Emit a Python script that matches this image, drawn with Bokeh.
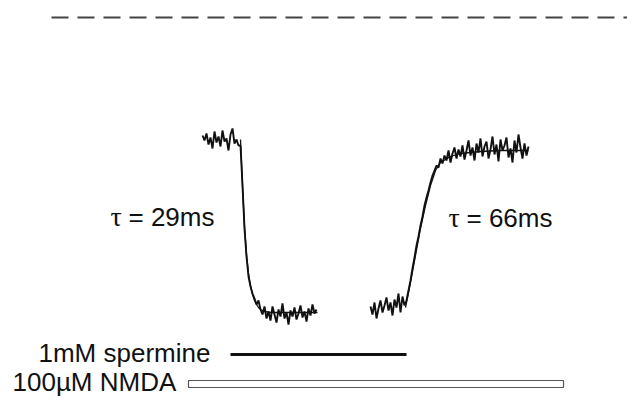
import numpy as np
from bokeh.plotting import figure
from bokeh.models import Range1d, Label
from bokeh.embed import file_html
from bokeh.resources import INLINE

# ---- data (time in ms, current in pA) ----
dt = 8  # sampling interval, ms
seg1_start = 0
seg1_current = [-590, -615, -580, -635, -600, -655, -570, -625, -595, -645,
                -565, -620, -605, -665, -585, -555, -630, -610, -640, -640,
                -840, -1055, -1195, -1295, -1345, -1380, -1405, -1435, -1415, -1460,
                -1485, -1445,
                -1505, -1470, -1515, -1445, -1485, -1525, -1460, -1495, -1430, -1505,
                -1475, -1535, -1465, -1495, -1450, -1510, -1480, -1440, -1500, -1470,
                -1520, -1455, -1490, -1435, -1480, -1460]
seg2_start = 672
seg2_current = [-1445, -1485, -1425, -1505, -1455, -1415, -1475, -1440, -1400, -1465,
                -1425, -1490, -1410, -1450, -1380, -1475, -1395, -1440, -1415,
                -1365, -1315, -1255, -1200, -1140, -1095, -1040, -995, -940, -900,
                -865, -825, -790, -765, -740, -750, -705, -730, -690, -715,
                -665, -725, -680, -650, -705, -660, -695, -640, -710, -665,
                -615, -690, -650, -715, -630, -675, -605, -695, -645, -620,
                -705, -660, -595, -685, -635, -720, -610, -665, -640, -600,
                -700, -655, -725, -615, -675, -585, -650, -705, -630, -690, -645]

fall_fit_t = [152, 160, 168, 176, 184, 192, 200, 208, 216, 224, 232, 248, 272, 460]
fall_fit_i = [-610, -840, -1045, -1185, -1280, -1340, -1385, -1415, -1435, -1450,
              -1460, -1470, -1475, -1475]
rise_fit_t = [812, 832, 852, 872, 892, 912, 932, 952, 992, 1032, 1112, 1192, 1304]
rise_fit_i = [-1450, -1325, -1190, -1055, -940, -840, -765, -725, -695, -680,
              -670, -665, -665]

zero_t = [-604, 1700]
spermine_t = [112, 816]
nmda_t = [-56, 1444]
tau_texts = ["= 29ms", "= 66ms"]
spermine_label = "1mM spermine"
nmda_label = "100\u00b5M NMDA"

seg1_t = seg1_start + dt * np.arange(len(seg1_current))
seg2_t = seg2_start + dt * np.arange(len(seg2_current))

p = figure(width=627, height=403, x_range=Range1d(-808, 1700), y_range=Range1d(-1930, 85),
           output_backend="svg", toolbar_location=None, min_border=0,
           x_axis_type=None, y_axis_type=None)
p.grid.visible = False
p.outline_line_color = None
p.background_fill_color = "white"

# zero-current dashed line
p.line(zero_t, [0, 0], line_dash="17 9", line_width=2, color="#444444")

# traces
p.line(seg1_t, seg1_current, line_width=1.9, color="#111111")
p.line(seg2_t, seg2_current, line_width=1.9, color="#111111")
p.line(fall_fit_t, fall_fit_i, line_width=1.3, color="#111111")
p.line(rise_fit_t, rise_fit_i, line_width=1.3, color="#111111")

# application bars
p.line(spermine_t, [-1685, -1685], line_width=3, color="#111111")
p.quad(left=[nmda_t[0]], right=[nmda_t[1]], bottom=[-1850], top=[-1815],
       fill_color="white", line_color="#555555", line_width=1.2)

font = "Liberation Sans"
for tx, ty, sx, s in [(-368, -995, -296, tau_texts[0]), (984, -1000, 1056, tau_texts[1])]:
    p.add_layout(Label(x=tx, y=ty, text="\u03c4", text_font="Liberation Serif",
                       text_font_size="28px", text_baseline="alphabetic", text_color="#111111"))
    p.add_layout(Label(x=sx, y=ty, text=s, text_font=font,
                       text_font_size="26px", text_baseline="alphabetic", text_color="#111111"))

p.add_layout(Label(x=-656, y=-1675, text=spermine_label, text_font=font,
                   text_font_size="26px", text_baseline="alphabetic", text_color="#111111"))
p.add_layout(Label(x=-760, y=-1820, text=nmda_label, text_font=font,
                   text_font_size="26px", text_baseline="alphabetic", text_color="#111111"))

open("out.html", "w").write(file_html(p, INLINE))
